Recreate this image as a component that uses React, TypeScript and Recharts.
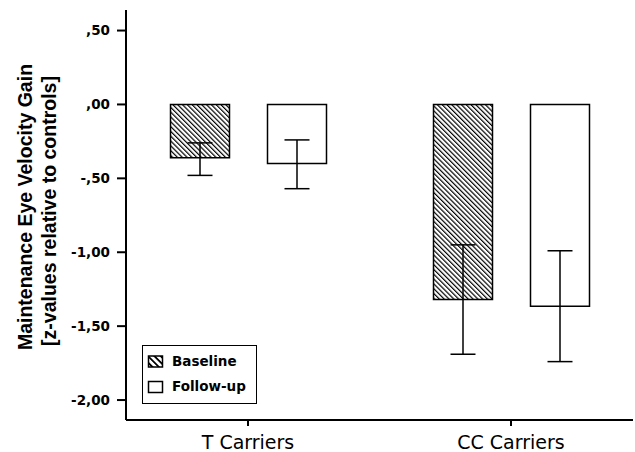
import { BarChart, Bar, XAxis, YAxis, ErrorBar, Legend } from 'recharts'

// group labels and bar values
const categories = ['T Carriers', 'CC Carriers']
const baselineMean = [-0.36, -1.32]
const baselineLower = [-0.48, -1.69]
const baselineUpper = [-0.26, -0.95]
const followUpMean = [-0.40, -1.365]
const followUpLower = [-0.57, -1.74]
const followUpUpper = [-0.24, -0.99]
const yTicks = [0.5, 0, -0.5, -1, -1.5, -2]

const data = categories.map((name, i) => ({
    name,
    baseline: baselineMean[i],
    baselineErr: [baselineMean[i] - baselineLower[i], baselineUpper[i] - baselineMean[i]],
    followUp: followUpMean[i],
    followUpErr: [followUpMean[i] - followUpLower[i], followUpUpper[i] - followUpMean[i]],
}))

// SPSS style: ",50", "-1,00"
const fmt = (v: number) => {
    const s = Math.abs(v).toFixed(2).replace('.', ',')
    const t = s.startsWith('0') ? s.slice(1) : s
    return v < 0 ? '-' + t : t
}

const FONT = '"DejaVu Sans", Verdana, sans-serif'
const TITLE_FONT = '"Liberation Sans", Arial, sans-serif'

const renderLegend = (props: any) => {
    const payload = props.payload || []
    return (
        <svg width={115} height={59} style={{ display: 'block' }}>
            <defs>
                <pattern id="legendHatch" patternUnits="userSpaceOnUse" width="4.5" height="4.5" patternTransform="rotate(-45)">
                    <rect x="0" y="0" width="1.8" height="4.5" fill="#000" />
                </pattern>
            </defs>
            <rect x={0.5} y={0.5} width={114} height={58} fill="#fff" stroke="#000" strokeWidth={1} />
            {payload.map((entry: any, i: number) => (
                <g key={entry.value}>
                    <rect
                        x={6.5}
                        y={11 + i * 25.5}
                        width={14}
                        height={11}
                        fill={entry.dataKey === 'baseline' ? 'url(#legendHatch)' : '#fff'}
                        stroke="#000"
                        strokeWidth={1.5}
                    />
                    <text x={30} y={20.5 + i * 25.5} fontFamily={FONT} fontWeight="bold" fontSize={13.5} fill="#000">
                        {entry.value}
                    </text>
                </g>
            ))}
        </svg>
    )
}

export default function App() {
    return (
        <div style={{ position: 'absolute', left: 0, top: 0 }}>
            <BarChart
                width={635}
                height={452}
                data={data}
                margin={{ top: 10, right: 2, left: 0, bottom: 0 }}
                barSize={59}
                barGap={38}
            >
                <defs>
                    <pattern id="hatch" patternUnits="userSpaceOnUse" width="3.4" height="3.4" patternTransform="rotate(-45)">
                        <rect x="0" y="0" width="1.2" height="3.4" fill="#000" />
                    </pattern>
                </defs>

                <text transform="translate(32,207) rotate(-90)" textAnchor="middle" fontFamily={TITLE_FONT} fontWeight="bold" fontSize={19.5} fill="#000">
                    Maintenance Eye Velocity Gain
                </text>
                <text transform="translate(56,211) rotate(-90)" textAnchor="middle" fontFamily={TITLE_FONT} fontWeight="bold" fontSize={19.5} fill="#000">
                    [z-values relative to controls]
                </text>

                <XAxis
                    dataKey="name"
                    height={32}
                    padding={{ left: -9.5, right: -9.5 }}
                    axisLine={{ stroke: '#000', strokeWidth: 2 }}
                    tickLine={{ stroke: '#000', strokeWidth: 2 }}
                    tickSize={6}
                    tickMargin={10}
                    tick={{ fill: '#000', fontSize: 19, fontFamily: FONT }}
                />
                <XAxis
                    xAxisId="top"
                    dataKey="name"
                    orientation="top"
                    height={0}
                    tick={false}
                    tickLine={false}
                    axisLine={{ stroke: '#000', strokeWidth: 2 }}
                />
                <YAxis
                    width={126}
                    domain={[-2.135, 0.639]}
                    ticks={yTicks}
                    tickFormatter={fmt}
                    allowDataOverflow
                    axisLine={{ stroke: '#000', strokeWidth: 2 }}
                    tickLine={{ stroke: '#000', strokeWidth: 2 }}
                    tickSize={9}
                    tickMargin={7}
                    tick={{ fill: '#000', fontSize: 13.5, fontWeight: 'bold', fontFamily: FONT }}
                />
                <YAxis
                    yAxisId="right"
                    orientation="right"
                    width={0}
                    domain={[0, 1]}
                    tick={false}
                    tickLine={false}
                    axisLine={{ stroke: '#000', strokeWidth: 1.5 }}
                />

                <Legend
                    layout="horizontal"
                    verticalAlign="middle"
                    align="center"
                    content={renderLegend}
                    wrapperStyle={{ left: 142, top: 345, width: 115, height: 59 }}
                />

                <Bar dataKey="baseline" name="Baseline" fill="url(#hatch)" stroke="#000" strokeWidth={1.5} isAnimationActive={false}>
                    <ErrorBar dataKey="baselineErr" direction="y" width={12.5} stroke="#000" strokeWidth={1.5} isAnimationActive={false} />
                </Bar>
                <Bar dataKey="followUp" name="Follow-up" fill="#fff" stroke="#000" strokeWidth={1.5} isAnimationActive={false}>
                    <ErrorBar dataKey="followUpErr" direction="y" width={12.5} stroke="#000" strokeWidth={1.5} isAnimationActive={false} />
                </Bar>
            </BarChart>
        </div>
    )
}
